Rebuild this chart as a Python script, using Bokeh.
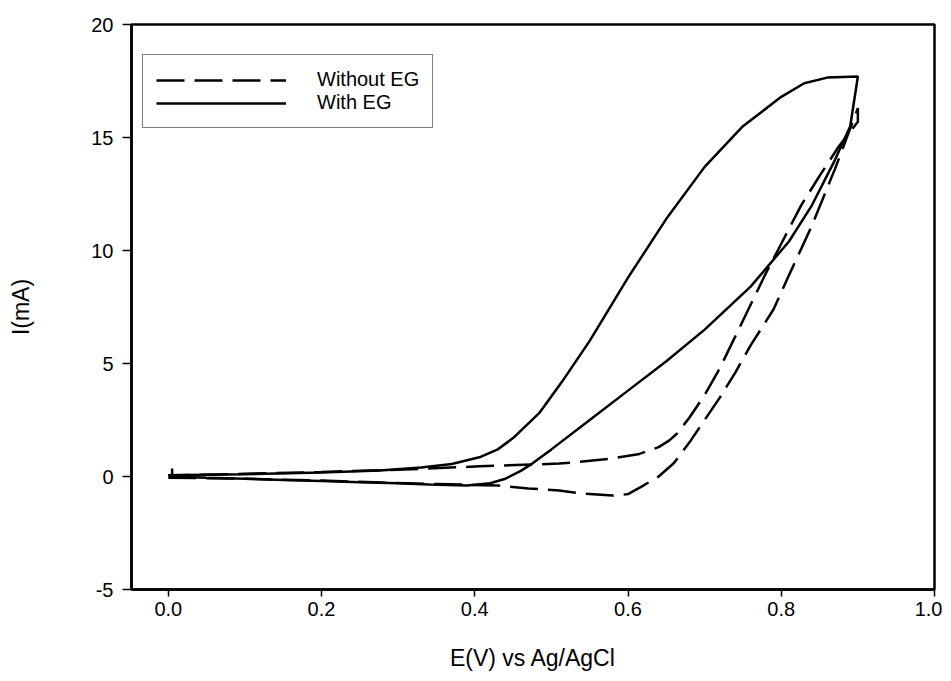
from bokeh.plotting import figure
from bokeh.models import Range1d, FixedTicker, Legend, LegendItem, CustomJSTickFormatter
from bokeh.embed import file_html
from bokeh.resources import INLINE

# With EG (solid): forward branch 0 -> 0.9, then return branch 0.9 -> 0
with_fwd_x = [0.005, 0.005, 0.05, 0.1, 0.15, 0.2, 0.25, 0.3, 0.34, 0.39, 0.42, 0.44, 0.46, 0.475, 0.5, 0.55, 0.6, 0.65, 0.7, 0.76, 0.81, 0.84, 0.87, 0.89, 0.9]
with_fwd_y = [0.35, 0.0, -0.05, -0.1, -0.15, -0.2, -0.25, -0.3, -0.35, -0.4, -0.3, -0.1, 0.25, 0.57, 1.2, 2.5, 3.8, 5.1, 6.5, 8.4, 10.4, 12.0, 14.0, 15.5, 17.7]
with_rev_x = [0.9, 0.86, 0.83, 0.8, 0.75, 0.7, 0.65, 0.6, 0.55, 0.514, 0.484, 0.45, 0.43, 0.406, 0.37, 0.33, 0.276, 0.2, 0.1, 0.0]
with_rev_y = [17.7, 17.65, 17.4, 16.8, 15.5, 13.7, 11.4, 8.8, 6.0, 4.2, 2.8, 1.7, 1.2, 0.85, 0.55, 0.4, 0.27, 0.18, 0.1, 0.05]

# Without EG (dashed)
wo_fwd_x = [0.0, 0.1, 0.2, 0.28, 0.35, 0.43, 0.47, 0.51, 0.54, 0.58, 0.6, 0.62, 0.64, 0.66, 0.68, 0.7, 0.72, 0.74, 0.76, 0.79, 0.81, 0.84, 0.87, 0.9]
wo_fwd_y = [-0.05, -0.1, -0.18, -0.27, -0.33, -0.4, -0.53, -0.62, -0.75, -0.84, -0.78, -0.4, 0.0, 0.6, 1.5, 2.5, 3.5, 4.6, 5.8, 7.4, 8.9, 11.1, 13.6, 16.3]
wo_rev_x = [0.9, 0.875, 0.85, 0.826, 0.8, 0.78, 0.76, 0.74, 0.72, 0.7, 0.68, 0.664, 0.654, 0.64, 0.615, 0.58, 0.537, 0.51, 0.406, 0.3, 0.2, 0.1, 0.0]
wo_rev_y = [15.7, 14.6, 13.3, 12.0, 10.3, 9.0, 7.6, 6.2, 4.8, 3.6, 2.6, 1.9, 1.6, 1.3, 1.0, 0.8, 0.65, 0.57, 0.45, 0.3, 0.2, 0.12, 0.05]

x_ticks = [0.0, 0.2, 0.4, 0.6, 0.8, 1.0]
y_ticks = [-5, 0, 5, 10, 15, 20]
series_labels = ["Without EG", "With EG"]
x_title = "E(V) vs Ag/AgCl"
y_title = "I(mA)"

FONT = "Liberation Sans"

p = figure(width=942, height=673, output_backend="svg", toolbar_location=None,
           x_range=Range1d(-0.048, 1.0), y_range=Range1d(-5, 20),
           min_border_left=131, min_border_right=8, min_border_top=24, min_border_bottom=84)
p.grid.visible = False
p.outline_line_color = "black"
p.outline_line_width = 2.5
p.background_fill_color = "white"
p.border_fill_color = "white"

r_wo = p.line(wo_fwd_x + wo_rev_x, wo_fwd_y + wo_rev_y, line_color="black",
              line_width=2.5, line_dash="28 10")
r_w = p.line(with_fwd_x + with_rev_x, with_fwd_y + with_rev_y, line_color="black",
             line_width=2.5)

for ax in (p.xaxis[0], p.yaxis[0]):
    ax.axis_line_width = 2.5
    ax.axis_line_color = "black"
    ax.major_tick_in = 0
    ax.minor_tick_line_color = None
    ax.major_tick_line_width = 1.5
    ax.major_label_text_font = FONT
    ax.major_label_text_color = "black"
    ax.axis_label_text_font = FONT
    ax.axis_label_text_font_style = "normal"
    ax.axis_label_text_color = "black"

p.xaxis.ticker = FixedTicker(ticks=x_ticks)
p.yaxis.ticker = FixedTicker(ticks=y_ticks)
p.xaxis.formatter = CustomJSTickFormatter(code="return tick.toFixed(1);")
p.yaxis.formatter = CustomJSTickFormatter(code="return tick.toFixed(0);")
p.xaxis.major_tick_out = 7
p.yaxis.major_tick_out = 9
p.xaxis.major_label_text_font_size = "20px"
p.yaxis.major_label_text_font_size = "20px"
p.xaxis.major_label_standoff = 5
p.yaxis.major_label_standoff = 9
p.xaxis.axis_label = x_title
p.yaxis.axis_label = y_title
p.xaxis.axis_label_text_font_size = "23px"
p.yaxis.axis_label_text_font_size = "23px"
p.xaxis.axis_label_standoff = 26
p.yaxis.axis_label_standoff = 54

legend = Legend(items=[LegendItem(label=series_labels[0], renderers=[r_wo]),
                       LegendItem(label=series_labels[1], renderers=[r_w])],
                location=(11, 461))
legend.label_text_font = FONT
legend.label_text_font_size = "20px"
legend.label_text_color = "black"
legend.glyph_width = 130
legend.glyph_height = 18
legend.label_height = 18
legend.spacing = 0
legend.padding = 13
legend.margin = 0
legend.label_standoff = 31
legend.border_line_color = "black"
legend.border_line_width = 1.5
legend.background_fill_alpha = 1.0
p.add_layout(legend, "center")

open("out.html", "w").write(file_html(p, INLINE))
